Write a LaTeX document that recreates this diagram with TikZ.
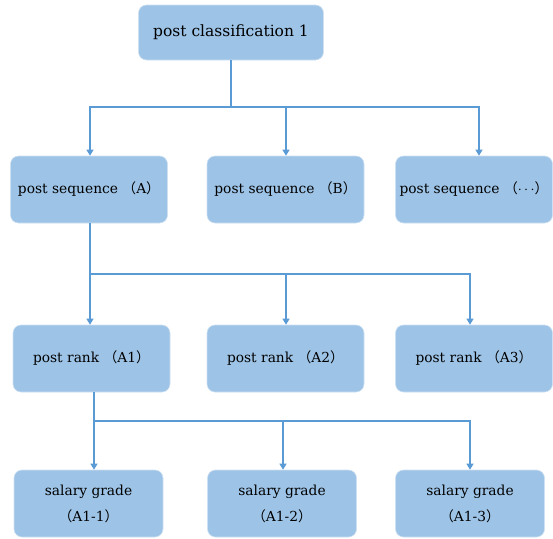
\documentclass[tikz,border=0pt]{standalone}
\usepackage{fontspec}
\setmainfont{DejaVu Serif}
\newfontfamily\cjk{Noto Sans CJK SC}
\usetikzlibrary{arrows.meta,calc}
\definecolor{boxblue}{HTML}{9DC3E6}
\definecolor{lineblue}{HTML}{5B9BD5}
\tikzstyle{box}=[rectangle,rounded corners=8pt,fill=boxblue,draw=boxblue!50!white,line width=0.6pt,minimum height=67pt,inner sep=2pt,align=center,font=\fontsize{13.8}{26}\selectfont]
\tikzstyle{link}=[draw=lineblue,line width=1.2pt]
\tikzstyle{arrow}=[link,-{Triangle[width=7pt,length=6pt]}]
\newcommand{\lp}{{\cjk （}}
\newcommand{\rp}{{\cjk ）}}

\begin{document}
\begin{tikzpicture}[x=1pt,y=-1pt]

\useasboundingbox (0,0) rectangle (553,538);

% top
\node[box,minimum width=185pt,minimum height=55pt,font=\fontsize{15.5}{18}\selectfont] (cls) at (231,32.5) {post classification 1};

% sequences
\foreach \x/\name/\label in {89/seqA/A, 285.5/seqB/B, 474/seqC/{$\cdots$}}
    \node[box,minimum width=157pt] (\name) at (\x,189.5) {post sequence \lp\label\rp};

% ranks
\foreach \x/\name/\label in {91.5/rankA/A1, 285.5/rankB/A2, 474/rankC/A3}
    \node[box,minimum width=157pt] (\name) at (\x,358.5) {post rank \lp\label\rp};

% salary grades
\foreach \x/\name/\label in {88.5/gradeA/A1-1, 282/gradeB/A1-2, 470/gradeC/A1-3}
    \node[box,minimum width=149pt] (\name) at (\x,503.5) {salary grade\\\lp\label\rp};

% layer 1 links
\coordinate (j1) at (cls.south |- 0,107);
\draw[link] (cls) -- (j1);
\foreach \dest/\dx in {seqA/1, seqB/0.5, seqC/5}
    \draw[arrow] (j1) -| ([xshift=\dx pt]\dest.north);

% layer 2 links
\coordinate (j2) at ([xshift=1pt]seqA.south |- 0,274);
\draw[link] ([xshift=1pt]seqA.south) -- (j2);
\draw[arrow] (j2) -- (j2 |- rankA.north);
\draw[arrow] (j2) -| ([xshift=0.5pt]rankB.north);
\draw[arrow] (j2) -| ([xshift=-4pt]rankC.north);

% layer 3 links
\coordinate (j3) at ([xshift=2.5pt]rankA.south |- 0,421);
\draw[link] ([xshift=2.5pt]rankA.south) -- (j3);
\draw[arrow] (j3) -- (j3 |- gradeA.north);
\draw[arrow] (j3) -| ([xshift=1pt]gradeB.north);
\draw[arrow] (j3) -| (gradeC);

\end{tikzpicture}
\end{document}
